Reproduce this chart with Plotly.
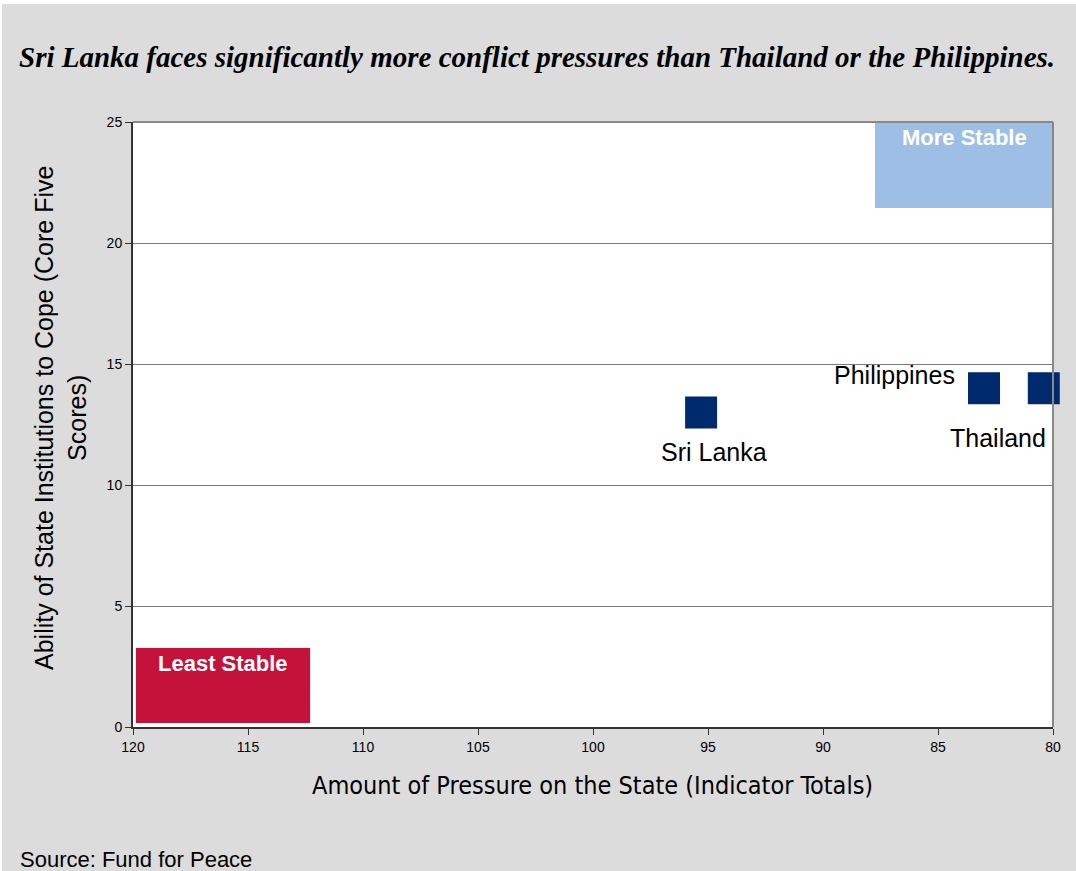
import plotly.graph_objects as go

countries = ["Sri Lanka", "Philippines", "Thailand"]
pressure = [95.3, 83.0, 80.4]
coping = [13.0, 14.0, 14.0]
x_ticks = [120, 115, 110, 105, 100, 95, 90, 85, 80]
y_ticks = [0, 5, 10, 15, 20, 25]

W, H = 1076, 871
L, R, T, B = 133, 23, 122, 144
PW, PH = W - L - R, H - T - B

fig = go.Figure()
fig.add_trace(go.Scatter(
    x=pressure, y=coping, mode="markers",
    marker=dict(symbol="square", size=32, color="#002A6E"),
    cliponaxis=False, showlegend=False, hoverinfo="skip"))

label_cfg = {
    "Sri Lanka": dict(xshift=13, yshift=-40, xanchor="center"),
    "Philippines": dict(xshift=-27, yshift=13, xanchor="right"),
    "Thailand": dict(xshift=-46, yshift=-50, xanchor="center"),
}
for name, xv, yv in zip(countries, pressure, coping):
    c = label_cfg[name]
    fig.add_annotation(x=xv, y=yv, text=name, showarrow=False,
                       xanchor=c["xanchor"], yanchor="middle",
                       xshift=c["xshift"], yshift=c["yshift"],
                       font=dict(family="Liberation Sans, Arial", size=25, color="#000000"))

# stability boxes
fig.add_shape(type="rect", x0=87.74, x1=80, y0=21.45, y1=25, xref="x", yref="y",
              fillcolor="#9DBFE5", line=dict(width=0), layer="above")
fig.add_annotation(x=83.85, y=25, yref="y", text="<b>More Stable</b>", showarrow=False,
                   yanchor="top", yshift=-1,
                   font=dict(family="Liberation Sans, Arial", size=22, color="white"))
fig.add_shape(type="rect", x0=119.87, x1=112.3, y0=0.17, y1=3.26, xref="x", yref="y",
              fillcolor="#C4123A", line=dict(width=0), layer="above")
fig.add_annotation(x=116.09, y=3.26, yref="y", text="<b>Least Stable</b>", showarrow=False,
                   yanchor="top", yshift=-1,
                   font=dict(family="Liberation Sans, Arial", size=22, color="white"))

# thin white border at top/left of the page
fig.add_shape(type="rect", xref="paper", yref="paper", x0=-0.3, x1=1.2,
              y0=1 + (T - 4) / PH, y1=1.4, fillcolor="white", line=dict(width=0), layer="below")
fig.add_shape(type="rect", xref="paper", yref="paper", x0=-0.3, x1=-(L - 2) / PW,
              y0=-0.4, y1=1.4, fillcolor="white", line=dict(width=0), layer="below")

fig.update_layout(
    width=W, height=H, autosize=False,
    margin=dict(l=L, r=R, t=T, b=B),
    paper_bgcolor="#DCDCDC", plot_bgcolor="white",
    title=dict(text="<b><i>Sri Lanka faces significantly more conflict pressures than Thailand or the Philippines.</i></b>",
               x=19 / W, xanchor="left", y=1 - 57 / H, yanchor="middle",
               font=dict(family="Liberation Serif, Times New Roman", size=29, color="black")),
    xaxis=dict(range=[120, 80], tickvals=x_ticks, ticks="outside", ticklen=6,
               tickcolor="#333", showgrid=False, zeroline=False,
               showline=True, linecolor="#333", linewidth=2,
               tickfont=dict(family="Liberation Sans, Arial", size=14, color="black")),
    yaxis=dict(range=[0, 25], tickvals=y_ticks, ticks="outside", ticklen=6,
               tickcolor="#333", showgrid=True, gridcolor="#7a7a7a", gridwidth=1, zeroline=False,
               showline=True, linecolor="#333", linewidth=2,
               tickfont=dict(family="Liberation Sans, Arial", size=14, color="black")),
)
# right and top border of plot area
fig.add_shape(type="line", xref="paper", yref="paper", x0=1, x1=1, y0=0, y1=1,
              line=dict(color="#888", width=2))
fig.add_shape(type="line", xref="paper", yref="paper", x0=0, x1=1, y0=1, y1=1,
              line=dict(color="#888", width=2))

# axis titles
fig.add_annotation(xref="paper", yref="paper", x=(592 - L) / PW, y=-(785 - (H - B)) / PH,
                   text="Amount of Pressure on the State (Indicator Totals)", showarrow=False,
                   xanchor="center", yanchor="middle",
                   font=dict(family="DejaVu Sans Condensed, DejaVu Sans", size=25, color="black"))
fig.add_annotation(xref="paper", yref="paper", x=-(L - 60) / PW, y=((H - B) - 418) / PH,
                   text="Ability of State Institutions to Cope (Core Five<br>Scores)", showarrow=False,
                   textangle=-90, xanchor="center", yanchor="middle",
                   font=dict(family="Liberation Sans, Arial", size=25, color="black"))

fig.add_annotation(xref="paper", yref="paper", x=-(L - 18) / PW, y=-(859 - (H - B)) / PH,
                   text="Source: Fund for Peace", showarrow=False,
                   xanchor="left", yanchor="middle",
                   font=dict(family="Liberation Sans, Arial", size=22, color="black"))

fig.write_html("out.html", config={"displayModeBar": False},
               post_script="document.body.style.margin='0';")
